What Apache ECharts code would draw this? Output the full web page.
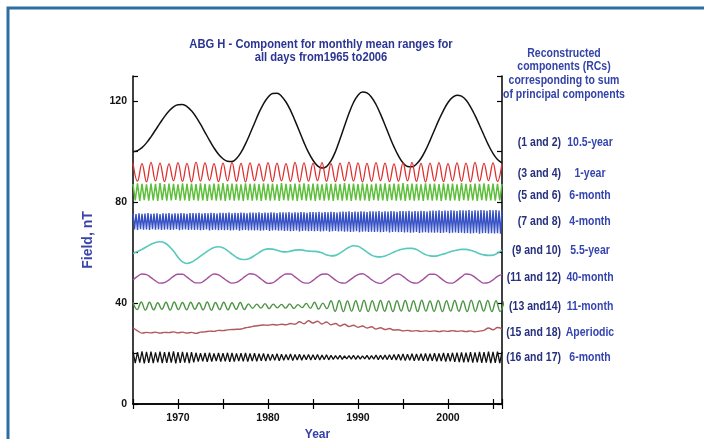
<!DOCTYPE html>
<html><head><meta charset="utf-8">
<script src="https://cdn.jsdelivr.net/npm/echarts@6/dist/echarts.min.js"></script>
<style>html,body{margin:0;padding:0;background:#fff}#c{width:704px;height:439px}</style>
</head><body><div id="c"></div>
<script>
// ---- data (Field, nT) ----
const START_YEAR = 1965, END_YEAR = 2006;
const xTickLabels = [1970, 1980, 1990, 2000];
const yTickLabels = [0, 40, 80, 120];

// RC 1 and 2 : 10.5-year (half-year samples)
const rc1Step = 0.5;
const rc1 = [100.0,100.4,101.6,103.5,105.9,108.6,111.3,113.9,116.1,117.8,
118.6,118.7,117.9,116.2,113.8,110.9,107.7,104.5,101.5,99.0,
97.2,96.2,96.1,97.3,99.7,103.1,107.1,111.3,115.5,119.0,
121.6,123.1,123.2,122.0,119.7,116.4,112.3,108.0,103.6,99.7,
96.6,94.4,93.5,94.1,96.4,100.1,105.0,110.2,115.2,119.5,
122.4,123.7,123.3,121.6,118.7,114.9,110.6,106.1,101.9,98.3,
95.6,94.1,94.0,95.1,97.3,100.5,104.4,108.6,112.7,116.4,
119.5,121.5,122.4,122.0,120.5,117.8,114.4,110.5,106.5,102.6,
99.3,96.9,95.6];

// RC 3 and 4 : 1-year (half-year samples)
const rc3Step = 0.5;
const rc3 = [95.6,88.3,95.3,88.0,95.8,88.4,95.5,88.1,95.2,88.5,
95.7,88.2,95.4,88.0,95.9,88.3,95.6,88.6,95.3,88.1,
95.5,88.4,95.8,88.2,95.4,88.0,95.6,88.5,95.2,88.3,
95.7,88.1,95.5,88.4,95.3,88.2,95.8,88.0,95.6,88.3,
95.4,88.5,95.7,88.2,95.3,88.1,95.5,88.4,95.9,88.3,
95.6,88.0,95.4,88.2,95.7,88.5,95.5,88.1,95.2,88.3,
95.6,88.4,95.8,88.2,95.4,88.0,95.5,88.3,95.7,88.1,
95.3,88.4,95.6,88.2,95.5,88.0,95.8,88.3,95.4,88.5,
95.6,88.2,95.3];

// RC 5 and 6 : 6-month (quarter-year samples)
const rc5Step = 0.25;
const rc5 = [87.2,80.7,87.5,80.5,87.3,80.8,87.1,80.6,87.4,80.7,87.3,80.5,87.6,80.8,87.2,80.6,87.4,80.7,87.3,80.9,
87.1,80.6,87.5,80.7,87.3,80.5,87.4,80.8,87.2,80.6,87.5,80.7,87.3,80.5,87.1,80.8,87.4,80.6,87.3,80.7,
87.6,80.5,87.2,80.8,87.4,80.6,87.3,80.7,87.1,80.5,87.5,80.8,87.3,80.6,87.4,80.7,87.2,80.5,87.5,80.8,
87.3,80.6,87.4,80.7,87.1,80.5,87.6,80.8,87.3,80.6,87.2,80.7,87.4,80.5,87.3,80.8,87.5,80.6,87.2,80.7,
87.4,80.5,87.3,80.8,87.1,80.6,87.5,80.7,87.3,80.5,87.4,80.8,87.2,80.6,87.6,80.7,87.3,80.5,87.4,80.8,
87.2,80.6,87.5,80.7,87.3,80.5,87.1,80.8,87.4,80.6,87.3,80.7,87.5,80.5,87.2,80.8,87.4,80.6,87.3,80.7,
87.6,80.5,87.2,80.8,87.4,80.6,87.3,80.7,87.1,80.5,87.5,80.8,87.3,80.6,87.4,80.7,87.2,80.5,87.5,80.8,
87.3,80.6,87.4,80.7,87.1,80.5,87.6,80.8,87.3,80.6,87.2,80.7,87.4,80.5,87.3,80.8,87.5,80.6,87.2,80.7,
87.4,80.6,87.3,80.7,87.2];

// RC 7 and 8 : 4-month (two-month samples)
const rc7Step = 1/6;
const rc7 = [75.5,69.2,75.3,69.0,75.6,69.3,75.4,69.1,75.5,69.2,75.7,69.0,75.4,69.3,75.5,69.1,75.6,69.2,75.3,69.0,
75.6,69.1,75.5,69.2,75.7,69.0,75.4,69.1,75.6,69.3,75.5,68.9,75.7,69.1,75.6,69.2,75.4,69.0,75.7,69.1,
75.7,69.0,75.6,69.1,75.8,68.9,75.5,69.0,75.7,69.2,75.6,68.8,75.8,69.0,75.7,69.1,75.5,68.9,75.8,69.0,
75.8,68.9,75.7,69.0,75.9,68.8,75.6,68.9,75.8,69.1,75.7,68.7,75.9,68.9,75.8,69.0,75.6,68.8,75.9,68.9,
75.9,68.8,75.8,68.9,76.0,68.7,75.7,68.8,75.9,69.0,75.8,68.6,76.0,68.8,75.9,68.9,75.7,68.7,76.0,68.8,
76.0,68.6,75.9,68.7,76.1,68.5,75.8,68.6,76.0,68.8,75.9,68.4,76.1,68.6,76.0,68.7,75.8,68.5,76.1,68.6,
76.1,68.5,76.0,68.6,76.2,68.4,75.9,68.5,76.1,68.7,76.0,68.3,76.2,68.5,76.1,68.6,75.9,68.4,76.2,68.5,
76.3,68.3,76.2,68.4,76.4,68.2,76.1,68.3,76.3,68.5,76.2,68.1,76.4,68.3,76.3,68.4,76.1,68.2,76.4,68.3,
76.4,68.2,76.3,68.3,76.5,68.1,76.2,68.2,76.4,68.4,76.3,68.0,76.5,68.2,76.4,68.3,76.2,68.1,76.5,68.2,
76.5,68.0,76.4,68.1,76.6,67.9,76.3,68.0,76.5,68.2,76.4,67.8,76.6,68.0,76.5,68.1,76.3,67.9,76.6,68.0,
76.7,67.9,76.6,68.0,76.8,67.8,76.5,67.9,76.7,68.1,76.6,67.7,76.8,67.9,76.7,68.0,76.5,67.8,76.8,67.9,
76.8,67.7,76.7,67.8,76.9,67.6,76.6,67.7,76.8,67.9,76.7,67.5,76.9,67.7,76.8,67.8,76.6,67.6,76.9,67.7,
76.8,67.6,76.9,67.7,76.7,67.5,76.8];

// RC 9 and 10 : 5.5-year (half-year samples)
const rc9Step = 0.5;
const rc9 = [59.7,60.4,61.3,62.3,63.3,64.0,64.3,63.9,62.6,60.6,
58.2,56.3,55.7,56.2,57.3,58.6,59.9,61.1,62.0,62.3,
61.9,60.8,59.4,58.1,57.4,57.3,57.8,58.8,60.0,61.0,
61.5,61.4,60.9,60.4,60.3,60.6,61.0,61.1,60.9,60.6,
60.5,60.4,59.9,59.1,58.7,58.9,59.8,61.0,62.1,62.7,
62.5,61.5,60.2,59.0,58.4,58.3,58.7,59.4,60.2,60.9,
61.4,61.7,61.7,61.2,60.2,59.2,58.7,58.6,58.9,59.4,
60.0,60.6,61.0,61.3,61.3,60.9,60.3,59.6,59.1,58.9,
59.0,59.8,61.0];

// RC 11 and 12 : 40-month (half-year samples)
const rc11Step = 0.5;
const rc11 = [49.2,50.6,
51.5,51.3,50.1,48.8,47.9,48.1,49.2,50.6,
51.4,51.4,50.3,48.9,48.0,48.0,49.1,50.5,
51.5,51.2,50.0,48.7,47.9,48.2,49.3,50.7,
51.6,51.4,50.2,48.8,47.8,48.0,49.2,50.6,
51.5,51.5,50.4,49.0,48.0,47.9,49.0,50.4,
51.4,51.5,50.5,49.1,48.1,47.9,48.9,50.2,
51.3,51.6,50.7,49.3,48.2,47.8,48.7,50.0,
51.2,51.5,50.6,49.2,48.1,47.9,48.8,50.2,
51.4,51.4,50.4,49.0,48.0,47.9,49.0,50.4,
51.5,51.3,50.2,48.8,47.9,48.1,49.2,50.6,
51.4];

// RC 13 and 14 : 11-month (half-period samples, 5.5 months)
const rc13Step = 11/24;
const rc13 = [40.2,37.4,40.4,37.2,40.3,37.3,40.1,37.5,40.3,37.2,40.4,37.4,40.2,37.3,40.3,37.5,40.1,37.3,40.4,37.2,40.2,37.4,40.3,37.3,40.1,37.5,40.2,37.4,
39.7,37.9,39.6,38.0,39.8,37.8,39.6,38.1,39.5,38.0,39.7,37.9,39.4,38.2,39.9,37.9,40.3,37.6,40.0,37.8,
40.9,36.7,41.0,36.6,40.8,36.8,40.9,36.7,41.1,36.6,40.9,36.8,41.0,36.7,40.8,36.6,40.9,36.8,41.0,36.7,
40.9,36.6,41.1,36.8,40.8,36.7,41.0,36.6,40.9,36.8,41.0,36.7,40.8,36.6,41.1,36.7,40.9,36.8,41.0,36.6,
40.9,36.7,40.8];

// RC 15 and 18 : aperiodic (half-year samples)
const rc15Step = 0.5;
const rc15 = [30.2,29.0,28.1,28.4,28.2,28.5,28.1,28.4,28.3,28.6,
28.2,28.5,28.1,28.4,28.0,28.5,28.6,28.9,28.8,29.2,
29.1,29.4,29.5,29.6,29.7,30.2,30.5,30.9,31.1,31.3,
31.2,31.5,31.3,31.6,31.4,31.9,31.6,32.6,31.8,33.0,
32.1,32.8,31.7,32.5,31.4,31.9,30.9,31.6,30.7,31.2,
30.4,30.9,30.1,30.6,29.7,30.2,29.5,29.9,29.3,29.4,
29.0,29.2,28.9,29.1,28.8,29.0,28.8,29.0,28.7,29.0,
28.8,29.1,28.8,29.0,28.7,29.0,28.6,28.9,29.2,30.1,
29.4,30.3,29.8];

// RC 16 and 17 : 6-month (quarter-year samples)
const rc16Step = 0.25;
const rc16 = [20.8,16.2,20.6,16.4,20.9,16.1,20.7,16.3,20.8,16.2,20.5,16.5,20.8,16.2,20.6,16.3,20.7,16.4,20.9,16.1,20.6,16.3,20.7,16.4,20.5,16.2,20.6,16.5,
20.3,16.8,20.1,16.9,20.2,16.7,20.3,16.8,20.0,17.0,20.2,16.8,20.1,16.9,20.3,16.7,20.2,16.8,20.0,17.0,20.1,16.9,20.2,16.8,20.0,17.0,20.1,16.9,19.9,17.1,20.0,17.0,
19.8,17.2,19.7,17.3,19.9,17.1,19.7,17.3,19.6,17.4,19.8,17.2,19.6,17.4,19.7,17.3,19.5,17.5,19.6,17.4,19.5,17.5,19.6,17.4,19.4,17.6,19.5,17.5,
19.3,17.7,19.2,17.8,19.3,17.7,19.1,17.9,19.2,17.8,19.3,17.7,19.2,17.8,19.1,17.9,19.3,17.7,19.2,17.8,19.4,17.6,19.3,17.7,19.4,17.6,19.5,17.5,
19.6,17.4,19.7,17.3,19.8,17.2,19.7,17.3,19.9,17.1,19.8,17.2,19.9,17.1,20.0,17.0,19.9,17.1,20.1,16.9,20.0,17.0,20.2,16.8,20.1,16.9,20.3,16.7,
20.4,16.6,20.5,16.5,20.4,16.6,20.6,16.4,20.5,16.5,20.7,16.3,20.6,16.4,20.8,16.2,20.7,16.3,20.8,16.2,20.7];

const rcPairs = ['(1 and 2)','(3 and 4)','(5 and 6)','(7 and 8)','(9 and 10)','(11 and 12)','(13 and14)','(15 and 18)','(16 and 17)'];
const rcPeriods = ['10.5-year','1-year','6-month','4-month','5.5-year','40-month','11-month','Aperiodic','6-month'];
const headerLines = ['Reconstructed','components (RCs)','corresponding to sum','of principal components'];
const titleLines = ['ABG H - Component for monthly mean ranges for','all days from1965 to2006'];

// ---- chart ----
const pts = (arr, step) => arr.map((v, i) => [START_YEAR + i * step, v]);
const FONT = '"Liberation Sans", Arial, sans-serif';
const BLUE_TXT = '#2b3592';
const labelY = [143, 174, 196, 222, 251, 278, 307, 333, 358];
const headerY = [54, 67, 81, 95];

const txt = (text, x, y, align, size, color, sx) => ({
  type:'text', x, y, scaleX:sx, silent:true,
  style:{text, x:0, y:0, textAlign:align, textVerticalAlign:'middle', font:'bold ' + size + 'px ' + FONT, fill:color}
});

const graphic = [
  {type:'polyline', shape:{points:[[8,439],[8,8],[704,8]]}, style:{stroke:'#2f6f9f', lineWidth:3, fill:null}, silent:true},
  txt(titleLines[0], 321, 44, 'center', 13.5, BLUE_TXT, 0.83),
  txt(titleLines[1], 321, 57, 'center', 13.5, BLUE_TXT, 0.83)
];
headerLines.forEach((t, i) => graphic.push(txt(t, 564, headerY[i], 'center', 12.5, '#3343a8', 0.84)));
rcPairs.forEach((t, i) => {
  graphic.push(txt(t, 561, labelY[i], 'right', 12.5, '#26307c', 0.84));
  graphic.push(txt(rcPeriods[i], 590, labelY[i], 'center', 12.5, '#3545b0', 0.84));
});

const mkLine = (name, arr, step, color, width, smooth) => ({
  name, type:'line', data: pts(arr, step), showSymbol:false, smooth: smooth ? 0.4 : false,
  lineStyle:{color, width}, itemStyle:{color}, clip:true, animation:false
});

const tickFont = {color:'#111', fontFamily:FONT, fontWeight:'bold', fontSize:10.5};

const chart = echarts.init(document.getElementById('c'), null, {renderer:'canvas'});
chart.setOption({
  animation:false,
  backgroundColor:'#ffffff',
  grid:{left:133, right:202, top:76, bottom:35, show:false, containLabel:false, outerBoundsMode:'none'},
  xAxis:[
    {type:'value', min:START_YEAR, max:END_YEAR, interval:5, position:'bottom',
     name:'Year', nameLocation:'middle', nameGap:23,
     nameTextStyle:{fontFamily:FONT, fontWeight:'bold', fontSize:12, color:'#3540a8'},
     axisLine:{lineStyle:{color:'#000', width:1.5}},
     axisTick:{inside:true, length:5, lineStyle:{color:'#000', width:1.2}},
     axisLabel:Object.assign({formatter:v => xTickLabels.includes(v) ? String(v) : '', margin:9}, tickFont),
     splitLine:{show:false}},
    {type:'value', min:START_YEAR, max:END_YEAR, interval:5, position:'top',
     axisLine:{lineStyle:{color:'#000', width:1.5}},
     axisTick:{inside:true, length:5, lineStyle:{color:'#000', width:1.2}},
     axisLabel:{show:false}, splitLine:{show:false}}
  ],
  yAxis:[
    {type:'value', min:0, max:130, interval:20, position:'left',
     name:'Field, nT', nameLocation:'middle', nameGap:38, nameRotate:90,
     nameTextStyle:{fontFamily:FONT, fontWeight:'bold', fontSize:14, color:'#3a45aa'},
     axisLine:{show:true, lineStyle:{color:'#000', width:1.5}},
     axisTick:{show:true, inside:true, length:5, lineStyle:{color:'#000', width:1.2}},
     axisLabel:Object.assign({formatter:v => yTickLabels.includes(v) ? String(v) : '', margin:6}, tickFont),
     splitLine:{show:false}},
    {type:'value', min:0, max:130, interval:20, position:'right',
     axisLine:{show:true, lineStyle:{color:'#000', width:1.5}},
     axisTick:{show:true, inside:true, length:5, lineStyle:{color:'#000', width:1.2}},
     axisLabel:{show:false}, splitLine:{show:false}}
  ],
  visualMap:[
    {type:'piecewise', show:false, seriesIndex:6, dimension:0,
     pieces:[{lt:1966.2, color:'#111'},{gte:1966.2, lt:1985.0, color:'#4c9444'},{gte:1985.0, lt:1987.2, color:'#111'},{gte:1987.2, color:'#4c9444'}]},
    {type:'piecewise', show:false, seriesIndex:7, dimension:0,
     pieces:[{lt:1966, color:'#111'},{gte:1966, lt:1983, color:'#b0585c'},{gte:1983, lt:1987.2, color:'#111'},{gte:1987.2, lt:1991, color:'#b0585c'},{gte:1991, lt:1994.3, color:'#111'},{gte:1994.3, lt:2003.8, color:'#b0585c'},{gte:2003.8, color:'#111'}]},
    {type:'piecewise', show:false, seriesIndex:8, dimension:0,
     pieces:[{lt:1992, color:'#111'},{gte:1992, lt:2001, color:'#2a3a8c'},{gte:2001, color:'#111'}]}
  ],
  graphic,
  series:[
    mkLine('RC 1-2', rc1, rc1Step, '#111111', 1.5, true),
    mkLine('RC 3-4', rc3, rc3Step, '#de2f2f', 1.3, true),
    mkLine('RC 5-6', rc5, rc5Step, '#5fbf3d', 1.5, false),
    mkLine('RC 7-8', rc7, rc7Step, '#3550c4', 1.4, false),
    mkLine('RC 9-10', rc9, rc9Step, '#57c9bd', 1.6, true),
    mkLine('RC 11-12', rc11, rc11Step, '#a3509d', 1.4, true),
    mkLine('RC 13-14', rc13, rc13Step, '#4c9444', 1.4, true),
    mkLine('RC 15-18', rc15, rc15Step, '#b0585c', 1.4, true),
    mkLine('RC 16-17', rc16, rc16Step, '#111111', 1.3, false)
  ]
});
</script></body></html>
